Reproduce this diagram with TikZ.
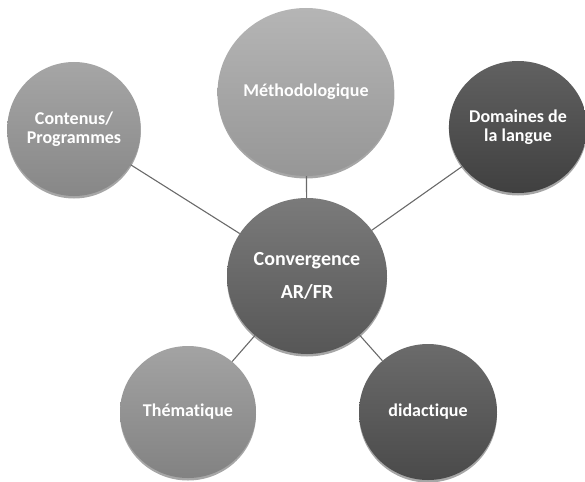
\documentclass[tikz,border=0pt]{standalone}
\usepackage{fontspec}
\setmainfont{Carlito}[Ligatures={NoCommon,NoContextual}]
\usetikzlibrary{shapes.geometric,shadows}

\definecolor{linkgray}{HTML}{6A6A6A}

\tikzset{
  bubble/.style={ellipse, inner sep=0pt, align=center, text=white,
    draw=none,
    drop shadow={shadow xshift=0pt, shadow yshift=-2.5pt, opacity=0.35, fill=black}},
  labelfont/.style={font=\fontsize{18}{19}\selectfont\bfseries},
  link/.style={draw=linkgray, line width=1.1pt}
}

\begin{document}
\begin{tikzpicture}[x=1pt, y=-1pt]
  \useasboundingbox (0,0) rectangle (585,481);

  % central topic
  \node[bubble, minimum width=160pt, minimum height=156pt,
        top color=black!52, bottom color=black!66,
        font=\fontsize{20}{33}\selectfont\bfseries]
    (conv) at (307,276) {Convergence\\AR/FR};

  % surrounding topics
  \node[bubble, labelfont, minimum width=172pt, minimum height=168pt,
        top color=black!29, bottom color=black!41]
    (meth) at (306,92) {Méthodologique};
  \node[bubble, labelfont, minimum width=130pt, minimum height=134pt,
        top color=black!35, bottom color=black!47]
    (cont) at (74,129) {Contenus/\\Programmes};
  \node[bubble, labelfont, minimum width=130pt, minimum height=132pt,
        top color=black!62, bottom color=black!75]
    (dom) at (518,127) {Domaines de\\la langue};
  \node[bubble, labelfont, minimum width=136pt, minimum height=132pt,
        top color=black!36, bottom color=black!49]
    (them) at (188,412) {Thématique};
  \node[bubble, labelfont, minimum width=138pt, minimum height=136pt,
        top color=black!58, bottom color=black!71]
    (did) at (428,412) {didactique};

  % connectors between the bubble borders
  \draw[link] (conv) -- (meth);
  \draw[link] (conv) -- (cont);
  \draw[link] (conv) -- (dom);
  \draw[link] (conv) -- (them);
  \draw[link] (conv) -- (did);
\end{tikzpicture}
\end{document}
